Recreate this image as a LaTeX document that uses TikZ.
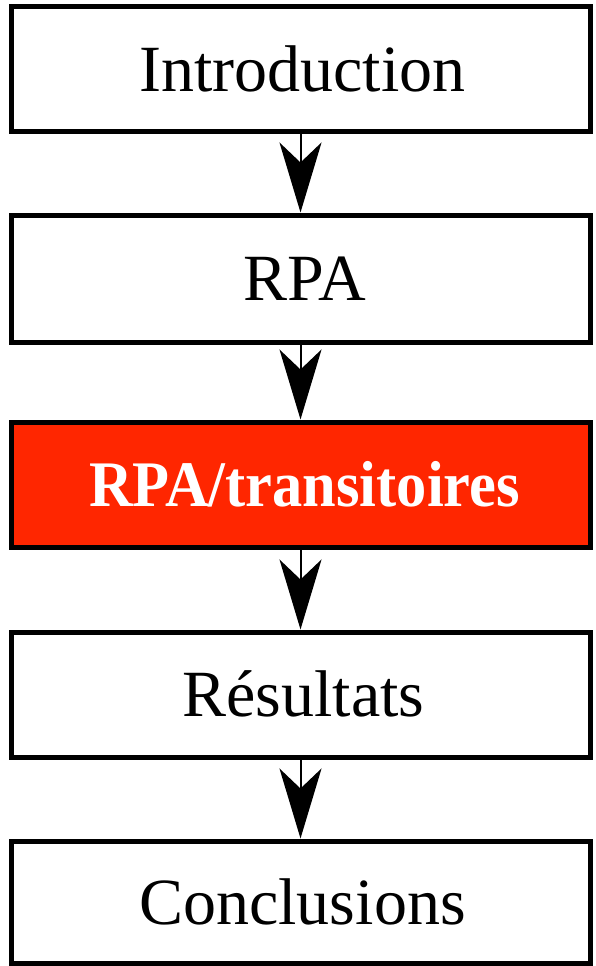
\documentclass[tikz,border=0pt]{standalone}
\usepackage{fontspec}
\usepackage{graphicx}
\setmainfont{Liberation Serif}
\usetikzlibrary{arrows.meta}
\definecolor{hired}{RGB}{255,38,0}
\tikzset{
  stepbox/.style={draw=black, line width=5pt, fill=white, minimum width=579pt,
    minimum height=124pt, inner sep=0pt, text height=44pt, text depth=0pt,
    font=\fontsize{66}{70}\selectfont},
  hibox/.style={stepbox, fill=hired, text=white, text height=44pt,
    font=\fontsize{65}{70}\selectfont\bfseries},
  flowarrow/.style={line width=2pt, -{Stealth[length=70pt, width=42pt, inset=20pt]}}
}
\begin{document}
\begin{tikzpicture}[x=1pt,y=1pt]
\useasboundingbox (0,0) rectangle (596,-966);
\node[stepbox] (intro) at (300.5,-69) {\hspace*{4pt}Introduction};
\node[stepbox, minimum height=127pt] (rpa) at (300.5,-278.5) {\hspace*{8pt}RPA};
\node[hibox, minimum height=125pt] (trans) at (300.5,-484.5) {\hspace*{8pt}\scalebox{0.93}[1]{RPA/transitoires}};
\node[stepbox, minimum height=125pt] (res) at (300.5,-694.5) {\hspace*{6pt}Résultats};
\node[stepbox, minimum height=122pt] (concl) at (300.5,-902) {\hspace*{4pt}Conclusions};
\draw[flowarrow] (intro.south) -- (rpa.north);
\draw[flowarrow] (rpa.south) -- (trans.north);
\draw[flowarrow] (trans.south) -- (res.north);
\draw[flowarrow] (res.south) -- (concl.north);
\end{tikzpicture}
\end{document}
